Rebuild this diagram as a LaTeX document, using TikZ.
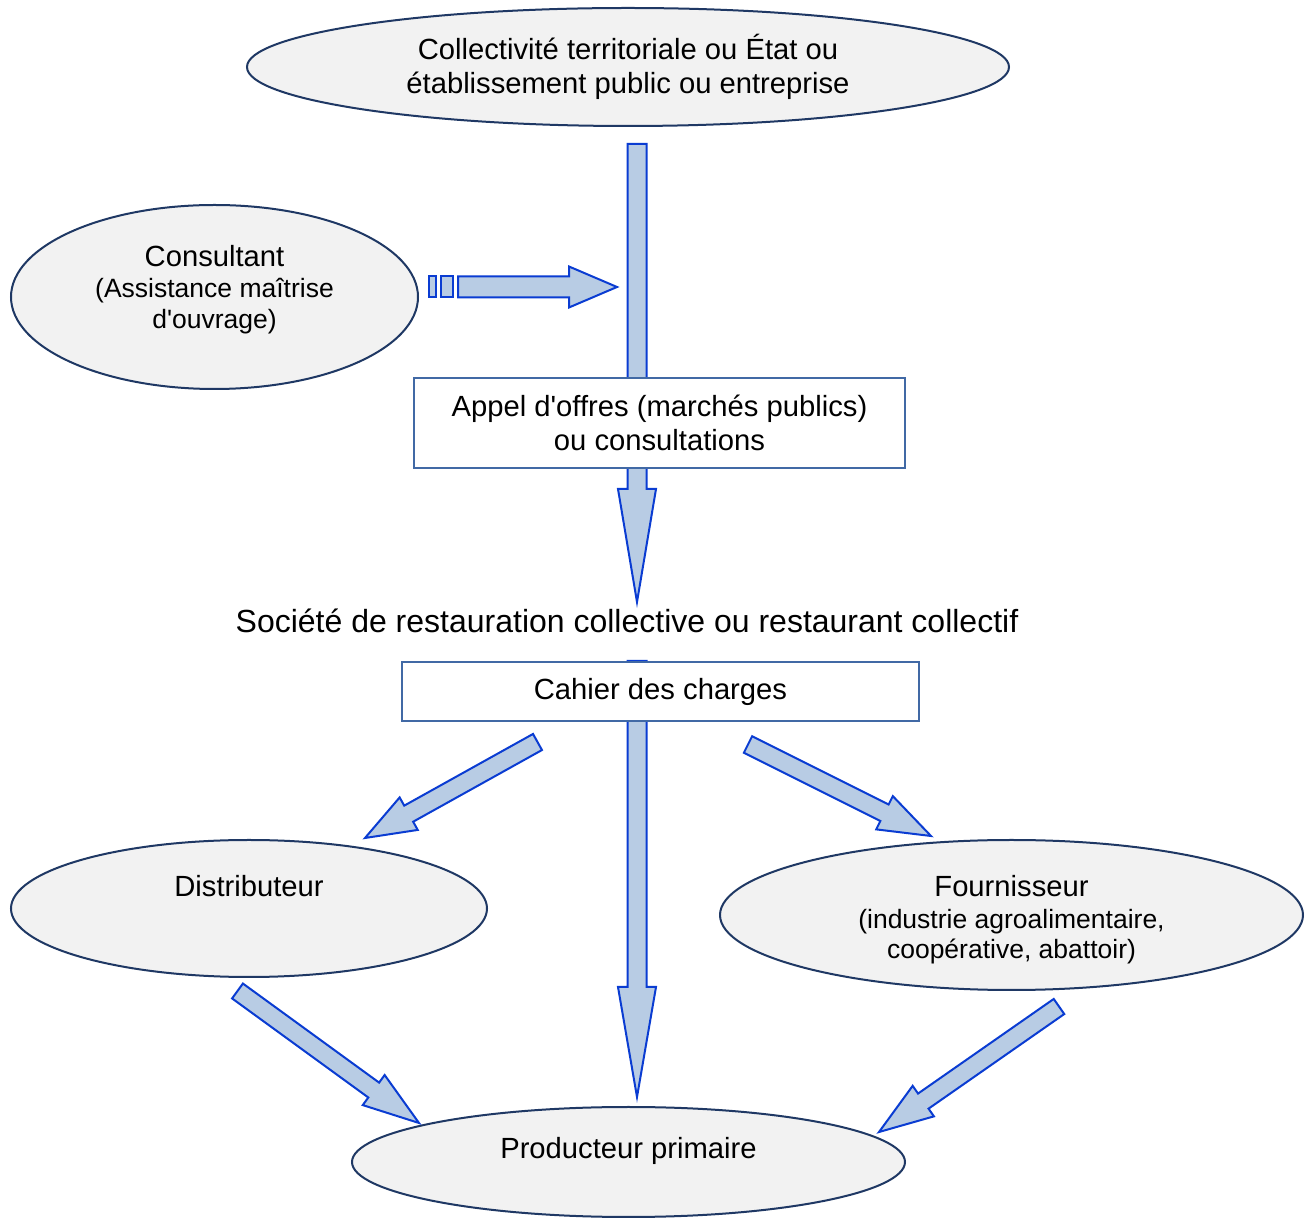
\documentclass[tikz,border=0pt]{standalone}
\usepackage{fontspec}
\setmainfont{Liberation Sans}
\usetikzlibrary{shapes.geometric,calc}

\definecolor{bubblefill}{RGB}{242,242,242}
\definecolor{bubbleline}{RGB}{31,56,100}
\definecolor{arrowfill}{RGB}{184,204,228}
\definecolor{arrowline}{RGB}{10,60,210}
\definecolor{boxline}{RGB}{65,105,165}

\newcommand{\bigtxt}{\fontsize{14.6}{17}\selectfont}
\newcommand{\smalltxt}{\fontsize{13.25}{15.5}\selectfont}
\newcommand{\q}{\textquotesingle}

% block arrow: start, tip, head length, half shaft, half head
\newcommand{\fatarrow}[5]{%
  \coordinate (fahb) at ($(#2)!#3!(#1)$);
  \filldraw[blockarrow] ($(#1)!#4!90:(#2)$) -- ($(fahb)!#4!-90:(#1)$)
    -- ($(fahb)!#5!-90:(#1)$) -- (#2) -- ($(fahb)!#5!90:(#1)$)
    -- ($(fahb)!#4!90:(#1)$) -- ($(#1)!#4!-90:(#2)$) -- cycle;
}

\begin{document}
\begin{tikzpicture}[
  x=0.5pt,
  y=-0.5pt,
  bubble/.style={
    ellipse,
    draw=bubbleline,
    fill=bubblefill,
    line width=1pt,
    inner sep=0pt,
    font=\bigtxt,
    align=center
  },
  framebox/.style={
    rectangle,
    draw=boxline,
    fill=white,
    line width=1pt,
    inner sep=0pt,
    font=\bigtxt,
    align=center
  },
  blockarrow/.style={
    draw=arrowline,
    fill=arrowfill,
    line width=1pt,
    line join=miter
  }
]
\useasboundingbox (0,0) rectangle (1308,1218);

% Client
\node[bubble, minimum width=381pt, minimum height=59pt] (etat) at (628,67)
  {Collectivité territoriale ou État ou\\établissement public ou entreprise};

% Consultant
\node[bubble, minimum width=203.5pt, minimum height=92pt] (consult) at (214.5,297) {};
\node[font=\bigtxt, align=center] (consulttxt) at (214.5,290)
  {Consultant\\[-1.5pt]\smalltxt (Assistance maîtrise\\[-1.5pt]\smalltxt d\q ouvrage)};

% Suppliers
\node[bubble, minimum width=238pt, minimum height=68.5pt] (distrib) at (249,908.5) {};
\node[font=\bigtxt] (distribtxt) at (249,886) {Distributeur};
\node[bubble, minimum width=291.5pt, minimum height=75pt] (fourn) at (1011.5,915) {};
\node[font=\bigtxt, align=center] (fourntxt) at (1011.5,920)
  {Fournisseur\\[-1pt]\smalltxt (industrie agroalimentaire,\\[-2pt]\smalltxt coopérative, abattoir)};

% Producer
\node[bubble, minimum width=276.5pt, minimum height=55pt] (prod) at (628.5,1162) {};
\node[font=\bigtxt] (prodtxt) at (628.5,1151) {Producteur primaire};

% Arrow ends
\coordinate (etatout) at (637,144);
\coordinate (societein) at (637,602);
\coordinate (consultout) at (458,287);
\coordinate (appelin) at (617,287);
\coordinate (cahierout) at (637,661);
\coordinate (prodin) at (637,1097);
\coordinate (cahierleft) at (537.5,742);
\coordinate (distribin) at (365,838);
\coordinate (cahierright) at (748,744.5);
\coordinate (fournin) at (931,836);
\coordinate (distribout) at (237.5,991);
\coordinate (prodleft) at (419,1123);
\coordinate (fournout) at (1059,1006.5);
\coordinate (prodright) at (879,1132);

% Arrows
\fatarrow{etatout}{societein}{56.5pt}{4.75pt}{9.5pt}
\fatarrow{consultout}{appelin}{24pt}{5.25pt}{10.25pt}
\draw[blockarrow] ($(consultout)+(-29,-11)$) rectangle ($(consultout)+(-22,10)$);
\draw[blockarrow] ($(consultout)+(-17,-11)$) rectangle ($(consultout)+(-5,10)$);
\fatarrow{cahierout}{prodin}{55pt}{4.75pt}{9.5pt}
\fatarrow{cahierleft}{distribin}{25pt}{4.6pt}{9.3pt}
\fatarrow{cahierright}{fournin}{26pt}{4.6pt}{9.3pt}
\fatarrow{distribout}{prodleft}{28pt}{4.6pt}{9.3pt}
\fatarrow{fournout}{prodright}{27pt}{4.6pt}{9.3pt}

% Tender and specification
\node[framebox, minimum width=245.5pt, minimum height=45pt] (appel) at (659.5,423)
  {Appel d\q offres (marchés publics)\\ou consultations};
\node[font=\fontsize{16}{19}\selectfont] (societe) at (627,621)
  {Société de restauration collective ou restaurant collectif};
\node[framebox, minimum width=258.5pt, minimum height=29.5pt] (cahier) at (660.5,691.5)
  {Cahier des charges};

\end{tikzpicture}
\end{document}
